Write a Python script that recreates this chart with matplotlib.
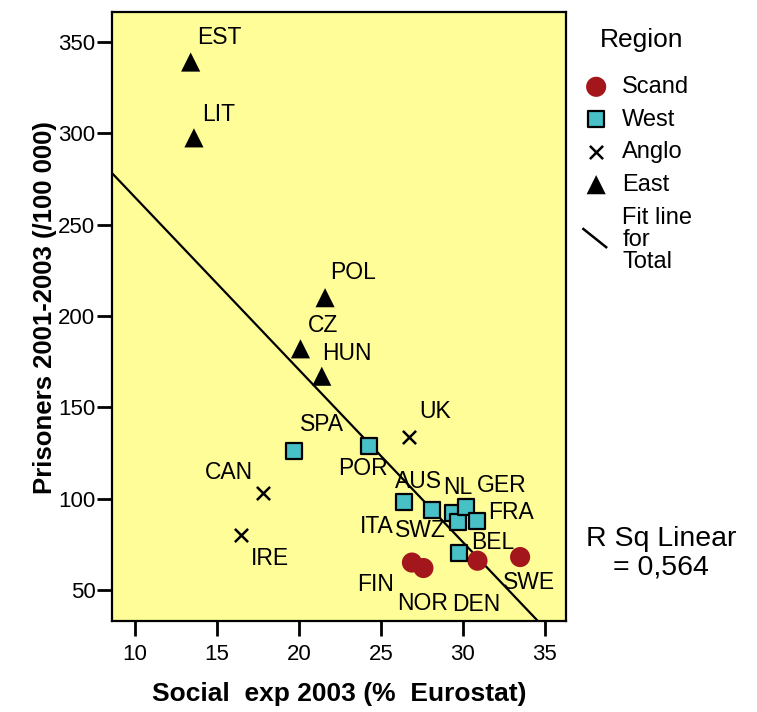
import numpy as np
import matplotlib
matplotlib.use('Agg')
import matplotlib.pyplot as plt
from matplotlib.lines import Line2D
from matplotlib.legend_handler import HandlerBase

plt.rcParams['font.family'] = ['Liberation Sans', 'DejaVu Sans']

#%% data
countries = ['FIN', 'NOR', 'DEN', 'SWE',
             'SPA', 'POR', 'ITA', 'AUS', 'SWZ', 'NL', 'GER', 'FRA', 'BEL',
             'UK', 'CAN', 'IRE',
             'EST', 'LIT', 'POL', 'CZ', 'HUN']
regions = ['Scand'] * 4 + ['West'] * 9 + ['Anglo'] * 3 + ['East'] * 5
social_exp = [26.9, 27.6, 30.9, 33.5,
              19.7, 24.3, 26.4, 28.1, 29.4, 29.7, 30.2, 30.9, 29.8,
              26.7, 17.8, 16.5,
              13.4, 13.6, 21.6, 20.1, 21.4]
prisoners = [65, 62, 66, 68, 
             126, 129, 98, 94, 92, 87, 95.5, 88, 70.5,
             134, 103, 80,
             339, 297.5, 210, 182, 167]
region_order = ['Scand', 'West', 'Anglo', 'East']
r_sq_text = 'R Sq Linear\n= 0,564'

#%% label offsets (pixels) and styles
label_offsets = {
    'EST': (6, 25, 'left'), 'LIT': (8, 23, 'left'), 'POL': (5, 25, 'left'),
    'CZ': (7, 23, 'left'), 'HUN': (0, 23, 'left'), 'SPA': (6, 27, 'left'),
    'POR': (-31, -23, 'left'), 'UK': (11, 25, 'left'), 'CAN': (-10, 21, 'right'),
    'IRE': (9, -23, 'left'), 'ITA': (-10, -24, 'right'), 'AUS': (-37, 28, 'left'),
    'SWZ': (-58, -17, 'left'), 'NL': (-15, 35, 'left'), 'GER': (11, 21, 'left'),
    'FRA': (11, 8, 'left'), 'BEL': (12, 10, 'left'), 'FIN': (-18, -22, 'right'),
    'NOR': (-26, -35, 'left'), 'DEN': (-25, -44, 'left'), 'SWE': (-17, -25, 'left'),
}
styles = {
    'Scand': dict(marker='o', s=210, c='#A3161C', edgecolors='none'),
    'West': dict(marker='s', s=120, c='#47C1C6', edgecolors='black', linewidths=1.6),
    'Anglo': dict(marker='x', s=90, c='black', linewidths=1.8),
    'East': dict(marker='^', s=190, c='black', edgecolors='none'),
}

x = np.array(social_exp)
y = np.array(prisoners)
reg = np.array(regions)

fig = plt.figure(figsize=(7.57, 7.12), dpi=100)
ax = fig.add_axes([112/757, 1 - 621/712, 454/757, 609/712])
ax.set_facecolor('#FFFD98')

for r in region_order:
    m = reg == r
    ax.scatter(x[m], y[m], label=r, zorder=3, **styles[r])

# fit line for total
b, a = np.polyfit(x, y, 1)
xl = np.array([0, 40])
ax.plot(xl, a + b * xl, color='black', lw=1.6, zorder=2)

for name, xi, yi in zip(countries, x, y):
    dx, dy, ha = label_offsets[name]
    ax.annotate(name, (xi, yi), xytext=(dx, dy), textcoords='offset pixels',
                ha=ha, va='center', fontsize=16.5, zorder=4)

ax.set_xlim(8.6, 36.3)
ax.set_ylim(33, 366.4)
ax.set_xticks([10, 15, 20, 25, 30, 35])
ax.set_yticks([50, 100, 150, 200, 250, 300, 350])
ax.tick_params(direction='out', length=10.5, width=2, labelsize=16, color='black')
ax.tick_params(axis='x', pad=6)
ax.tick_params(axis='y', pad=1.5)
for sp in ax.spines.values():
    sp.set_linewidth(1.6)

ax.set_xlabel('Social  exp 2003 (%  Eurostat)', fontsize=19, fontweight='bold')
ax.xaxis.label.set_va('center')
ax.xaxis.set_label_coords(0.5, -0.12)
ax.set_ylabel('Prisoners 2001-2003 (/100 000)', fontsize=18.5, fontweight='bold')
ax.yaxis.label.set_va('center')
ax.yaxis.set_label_coords(-0.148, 0.515)


class DiagHandler(HandlerBase):
    def create_artists(self, legend, orig_handle, xdescent, ydescent, width, height, fontsize, trans):
        l = Line2D([-xdescent + 1, -xdescent + width - 3],
                   [-ydescent + height * 1.15, -ydescent + height * 0.05],
                   color='black', lw=1.8, transform=trans)
        return [l]


handles, labels = ax.get_legend_handles_labels()
fit_handle = Line2D([], [], color='black')
handles.append(fit_handle)
labels.append('Fit line\nfor\nTotal')
leg = fig.legend(handles, labels, loc='upper left',
                 bbox_to_anchor=(582/757, 1 - 76/712), frameon=False,
                 fontsize=17, labelspacing=0.45,
                 handletextpad=0.5, handlelength=1.2, borderaxespad=0, borderpad=0,
                 handler_map={fit_handle: DiagHandler()})
leg.get_texts()[-1].set_linespacing(1.0)
fig.text(642/757, 1 - 40/712, 'Region', ha='center', va='center', fontsize=19)

fig.text(661/757, 1 - 553/712, r_sq_text, ha='center', va='center',
         fontsize=20.5, linespacing=1.1)

fig.savefig('out.png', dpi=100)
